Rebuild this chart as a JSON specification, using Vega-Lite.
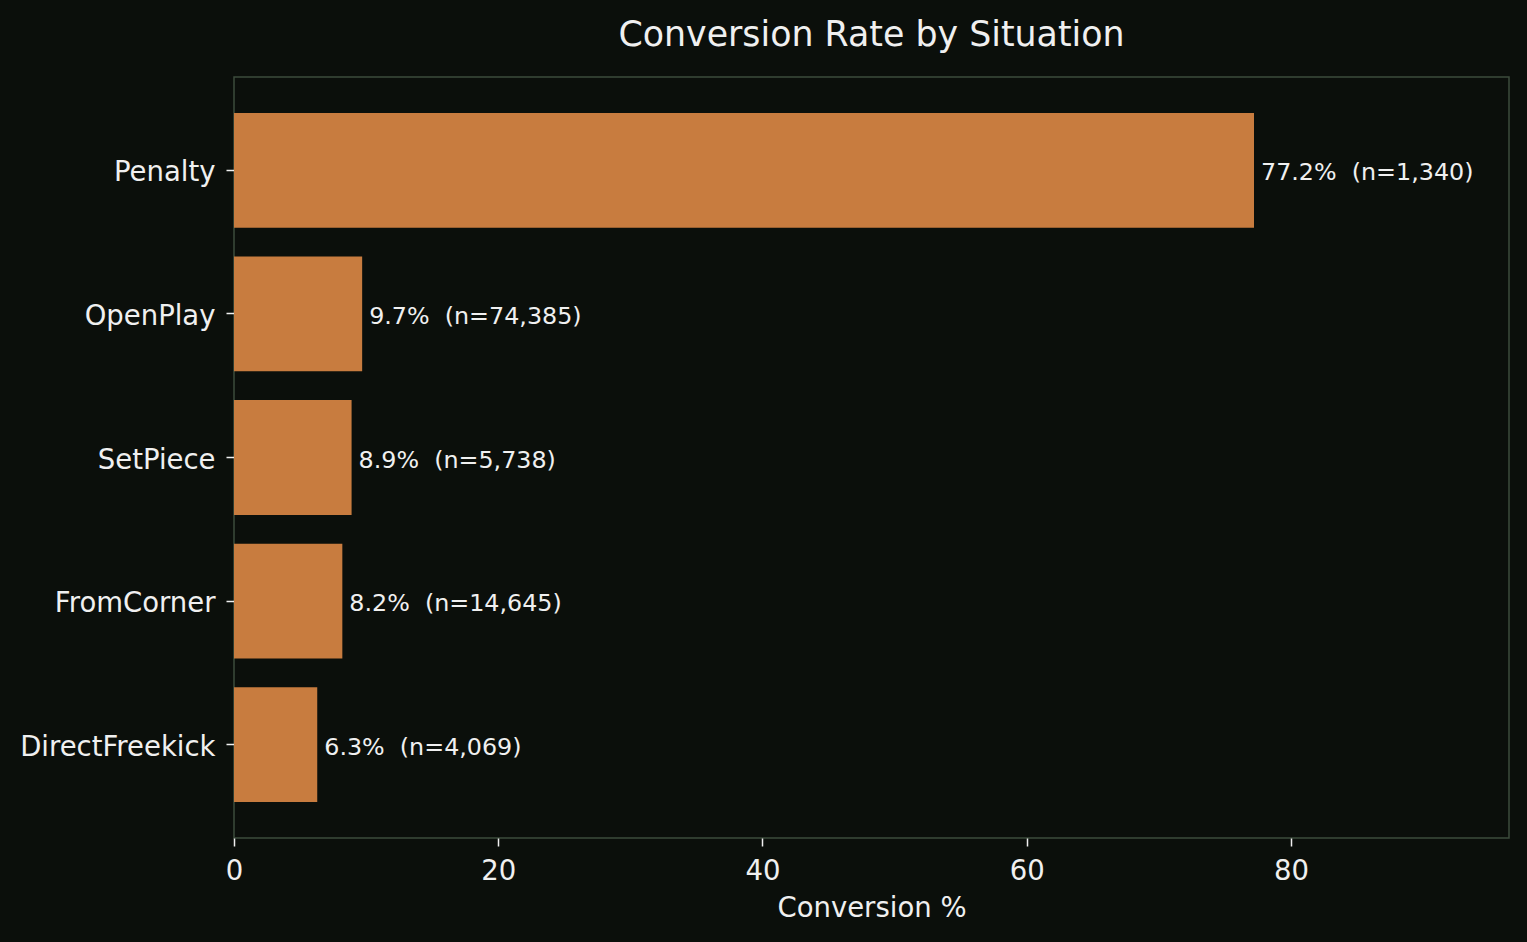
{
  "$schema": "https://vega.github.io/schema/vega-lite/v6.json",
  "width": 1275,
  "height": 761,
  "autosize": {"type": "none"},
  "padding": {"left": 234, "top": 77, "right": 18, "bottom": 104},
  "background": "#0b0f0b",
  "title": {
    "text": "Conversion Rate by Situation",
    "font": "DejaVu Sans",
    "fontSize": 34.8,
    "fontWeight": "normal",
    "color": "#f0f0f0",
    "anchor": "middle",
    "offset": 23
  },
  "config": {
    "font": "DejaVu Sans",
    "view": {"stroke": "#3d4c3d", "strokeWidth": 1.5}
  },
  "data": {
    "values": [
      {"situation": "Penalty", "rate": 77.2, "n": 1340},
      {"situation": "OpenPlay", "rate": 9.7, "n": 74385},
      {"situation": "SetPiece", "rate": 8.9, "n": 5738},
      {"situation": "FromCorner", "rate": 8.2, "n": 14645},
      {"situation": "DirectFreekick", "rate": 6.3, "n": 4069}
    ]
  },
  "transform": [
    {"calculate": "format(datum.rate, '.1f') + '%\u00a0 (n=' + format(datum.n, ',') + ')'", "as": "label"}
  ],
  "encoding": {
    "y": {
      "field": "situation",
      "type": "nominal",
      "sort": null,
      "scale": {"paddingInner": 0.2, "paddingOuter": 0.25},
      "axis": {
        "title": null,
        "domain": false,
        "tickColor": "#f0f0f0",
        "tickSize": 8,
        "tickWidth": 1.5,
        "labelColor": "#f0f0f0",
        "labelFontSize": 27.5,
        "labelPadding": 11,
        "labelLimit": 400,
        "labelOffset": 3
      }
    },
    "x": {
      "field": "rate",
      "type": "quantitative",
      "scale": {"domain": [0, 96.5], "nice": false},
      "axis": {
        "title": "Conversion %",
        "values": [0, 20, 40, 60, 80],
        "grid": false,
        "domain": false,
        "labelFlush": false,
        "tickColor": "#f0f0f0",
        "tickSize": 8,
        "tickWidth": 1.5,
        "labelColor": "#f0f0f0",
        "labelFontSize": 27.5,
        "labelPadding": 11,
        "titleColor": "#f0f0f0",
        "titleFontSize": 27.5,
        "titleFontWeight": "normal",
        "titlePadding": 10
      }
    }
  },
  "layer": [
    {"mark": {"type": "bar", "color": "#c87c3f"}},
    {
      "mark": {
        "type": "text",
        "align": "left",
        "baseline": "middle",
        "dx": 7,
        "dy": 3,
        "fontSize": 23.8,
        "color": "#f0f0f0"
      },
      "encoding": {"text": {"field": "label"}}
    }
  ]
}
